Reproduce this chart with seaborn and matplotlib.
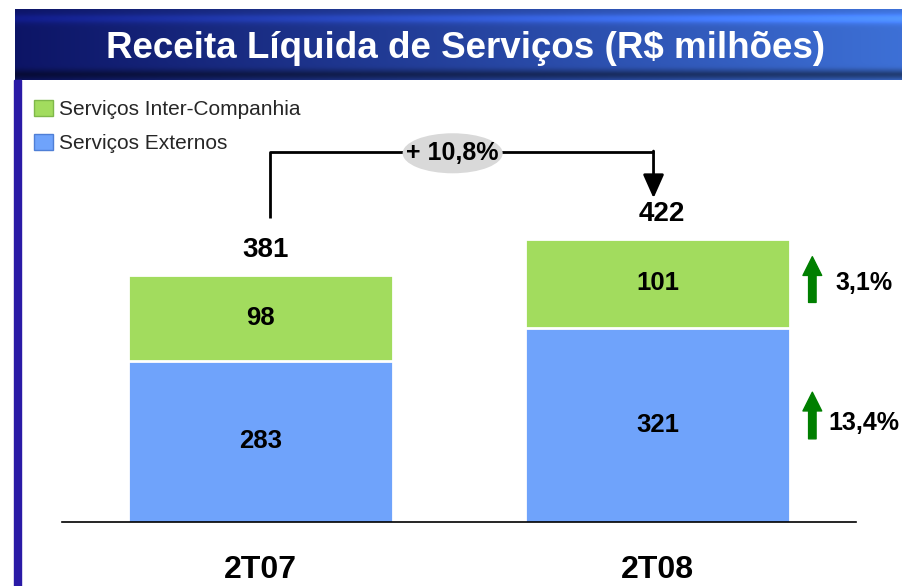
import numpy as np
import matplotlib.pyplot as plt
import matplotlib.patches as mpatches
import seaborn as sns

# dados (R$ milhões)
periodos = ["2T07", "2T08"]
externos = [283, 321]
inter_companhia = [98, 101]
totais = [e + i for e, i in zip(externos, inter_companhia)]
var_total = "+ 10,8%"
var_inter = "3,1%"
var_externos = "13,4%"

verde = "#a2dc5e"
azul = "#6fa3fb"

sns.set_theme(style="white")
plt.rcParams["font.family"] = ["Liberation Sans", "DejaVu Sans"]

W, H = 903, 586
fig = plt.figure(figsize=(W / 100, H / 100), dpi=100)


def fx(px):
    return px / W


def fy(py):
    return 1 - py / H


# faixa do título com degradê
ban = fig.add_axes([fx(15), fy(80), 1 - fx(15), 71 / H])
t = np.linspace(0, 1, 60)[:, None]
s = np.linspace(0, 1, 400)[None, :]
esq = np.array([0.05, 0.08, 0.40])
dir_ = np.array([0.24, 0.44, 0.84])
base = esq[None, None, :] * (1 - s[..., None]) + dir_[None, None, :] * s[..., None]
luz = 1 + 0.35 * np.exp(-((t - 0.13) / 0.07) ** 2) - 0.45 * np.exp(-((t - 0.93) / 0.07) ** 2)
img = np.clip(base * luz[..., None], 0, 1)
ban.imshow(img, aspect="auto", extent=(0, 1, 0, 1))
ban.set_axis_off()
ban.text(0.507, 0.45, "Receita Líquida de Serviços (R$ milhões)", color="white",
         fontsize=26.5, fontweight="bold", ha="center", va="center")

# barra lateral
fig.add_artist(mpatches.Rectangle((fx(14), 0), 7 / W, fy(80), color="#2a1aa6",
                                  transform=fig.transFigure))

# gráfico
ax = fig.add_axes([fx(62), fy(522), (856 - 62) / W, (522 - 90) / H])
ymin = 100
ymax = ymin + 432 / 0.88

sns.barplot(x=periodos, y=totais, color=verde, width=0.665, saturation=1,
            edgecolor="white", linewidth=2, ax=ax)
sns.barplot(x=periodos, y=externos, color=azul, width=0.665, saturation=1,
            edgecolor="white", linewidth=2, ax=ax)

ax.set_xlim(-0.5, 1.5)
ax.set_ylim(ymin, ymax)
ax.set_yticks([])
ax.set_xlabel("")
ax.set_ylabel("")
for lado in ["left", "right", "top"]:
    ax.spines[lado].set_visible(False)
ax.spines["bottom"].set_color("black")
ax.spines["bottom"].set_linewidth(1.2)
ax.tick_params(axis="x", length=0, pad=24, labelsize=23)
for lbl in ax.get_xticklabels():
    lbl.set_fontweight("bold")
    lbl.set_color("black")

for i in range(len(periodos)):
    ax.text(i, (ymin + externos[i]) / 2, str(externos[i]), ha="center", va="center",
            fontsize=18.5, fontweight="bold", color="black")
    ax.text(i, (externos[i] + totais[i]) / 2, str(inter_companhia[i]), ha="center",
            va="center", fontsize=18.5, fontweight="bold", color="black")
    ax.text(i + 0.012, totais[i] + 28, str(totais[i]), ha="center", va="center",
            fontsize=20, fontweight="bold", color="black")

# conector com variação total
yc = 520.5
ax.plot([0.025, 0.025, 0.99], [446, yc, yc], color="black", lw=2, clip_on=False,
        solid_capstyle="butt", zorder=2)
ax.annotate("", xy=(0.99, totais[1] + 46), xytext=(0.99, yc + 1),
            arrowprops=dict(arrowstyle="-|>,head_length=0.9,head_width=0.4",
                            mutation_scale=16, color="black", lw=2,
                            shrinkA=0, shrinkB=0),
            annotation_clip=False)
ax.add_patch(mpatches.Ellipse((0.484, 519), 0.252, 45.5, facecolor="#d9d9d9",
                              edgecolor="none", zorder=3, clip_on=False))
ax.text(0.484, 519, var_total, ha="center", va="center", fontsize=18,
        fontweight="bold", color="black", zorder=4)

# setas de variação por segmento
y_inter = (externos[1] + totais[1]) / 2
y_ext = (ymin + externos[1]) / 2
for y0, y1 in [(y_inter - 22, y_inter + 30), (y_ext - 16, y_ext + 37)]:
    ax.annotate("", xy=(1.39, y1), xytext=(1.39, y0),
                arrowprops=dict(arrowstyle="simple,head_length=0.75,head_width=0.75,tail_width=0.3",
                                mutation_scale=18, color="#007f00",
                                shrinkA=0, shrinkB=0),
                annotation_clip=False)
ax.text(1.448, y_inter, var_inter, ha="left", va="center", fontsize=18,
        fontweight="bold", color="black", clip_on=False)
ax.text(1.431, y_ext + 2, var_externos, ha="left", va="center", fontsize=18,
        fontweight="bold", color="black", clip_on=False)

# legenda
handles = [mpatches.Patch(facecolor=verde, edgecolor="#7fb84a"),
           mpatches.Patch(facecolor=azul, edgecolor="#4f7fd6")]
fig.legend(handles, ["Serviços Inter-Companhia", "Serviços Externos"],
           loc="upper left", bbox_to_anchor=(fx(34), fy(100)), frameon=False,
           fontsize=15, borderpad=0, borderaxespad=0, handlelength=0.9,
           handleheight=0.8, handletextpad=0.3, labelspacing=0.7)

fig.savefig("out.png", dpi=100)
